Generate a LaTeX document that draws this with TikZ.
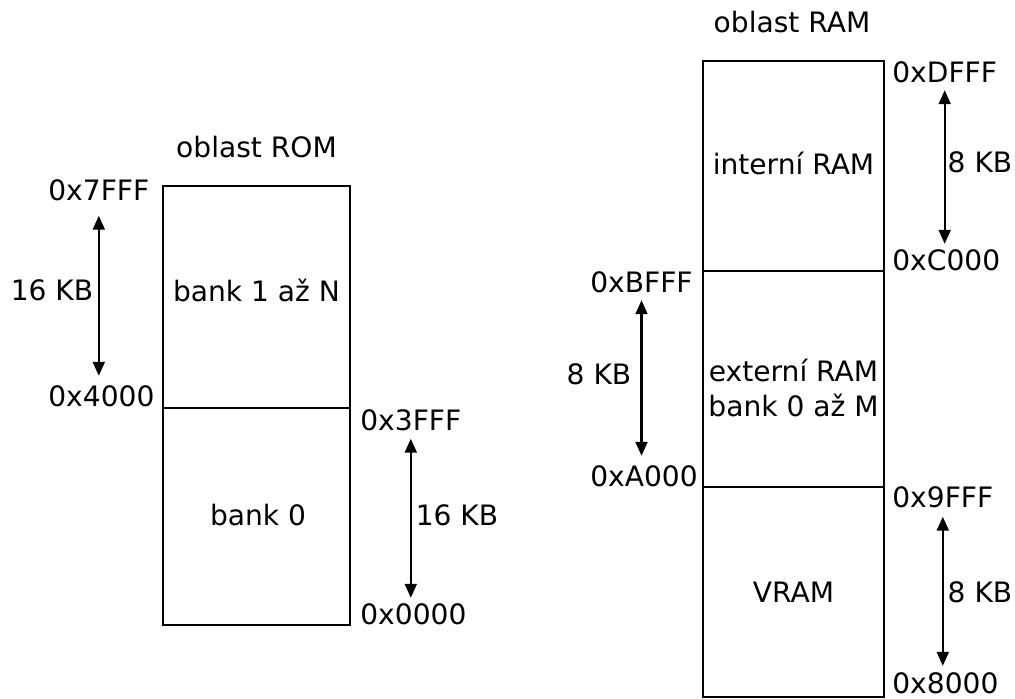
\documentclass[tikz,border=0pt]{standalone}
\usepackage{fontspec}
\setmainfont{DejaVu Sans}
\usetikzlibrary{arrows.meta}

\tikzset{
    membox/.style={draw=black, line width=1.3pt, inner sep=0pt},
    txt/.style={anchor=base, inner sep=0pt},
    addr/.style={anchor=base west, inner sep=0pt},
    span/.style={{Triangle[length=0.28cm,width=0.24cm]}-{Triangle[length=0.28cm,width=0.24cm]},
        line width=1.2pt, shorten <=0.13cm, shorten >=0.12cm}
}

\begin{document}
\begin{tikzpicture}[x=0.02cm, y=-0.02cm, font=\fontsize{16}{17}\selectfont]

\useasboundingbox (0,0) rectangle (1015,699);

% ROM
\node[membox, minimum width=3.74cm, minimum height=4.44cm] (bank1) at (256.5,297) {};
\node[membox, minimum width=3.74cm, minimum height=4.34cm] (bank0) at (256.5,516.5) {};
\node[txt] (romtitle) at (256.5,158) {oblast ROM};
\node[txt] (bank1txt) at (256.5,302) {bank 1 až N};
\node[txt] (bank0txt) at (258,525) {bank 0};

\node[addr] (r7fff) at (48,201) {0x7FFF};
\node[addr] (r4000) at (48,407) {0x4000};
\node[addr] (r3fff) at (360,431) {0x3FFF};
\node[addr] (r0000) at (360,624) {0x0000};

\draw[span, shorten <=0.28cm, shorten >=0.2cm] (r7fff.south) -- (r7fff.south |- r4000.north);
\draw[span, shorten <=0.14cm, shorten >=0.1cm] (r3fff.south) -- (r3fff.south |- r0000.north);
\node[txt] (kb16a) at (52,301) {16 KB};
\node[txt] (kb16b) at (457,525) {16 KB};

% RAM
\node[membox, minimum width=3.62cm, minimum height=4.2cm] (intram) at (793.5,166) {};
\node[membox, minimum width=3.62cm, minimum height=4.32cm] (extram) at (793.5,379) {};
\node[membox, minimum width=3.62cm, minimum height=4.2cm] (vram) at (793.5,592) {};
\node[txt] (ramtitle) at (792,33) {oblast RAM};
\node[txt] (inttxt) at (793.5,175) {interní RAM};
\node[inner sep=0pt, align=center] (exttxt) at (793.5,388) {externí RAM\\[3pt]bank 0 až M};
\node[txt] (vramtxt) at (793.5,602) {VRAM};

\node[addr] (rdfff) at (892,83) {0xDFFF};
\node[addr] (rc000) at (892,271) {0xC000};
\node[addr] (rbfff) at (590,293) {0xBFFF};
\node[addr] (ra000) at (590,486) {0xA000};
\node[addr] (r9fff) at (892,507) {0x9FFF};
\node[addr] (r8000) at (892,693) {0x8000};

\draw[span] (rdfff.south) -- (rdfff.south |- rc000.north);
\draw[span, shorten >=0.18cm] (rbfff.south) -- (rbfff.south |- ra000.north);
\draw[span, shorten <=0.18cm] (r9fff.south) -- (r9fff.south |- r8000.north);
\node[txt] (kb8a) at (980,173) {8 KB};
\node[txt] (kb8b) at (599,385) {8 KB};
\node[txt] (kb8c) at (980,602) {8 KB};

\end{tikzpicture}
\end{document}
